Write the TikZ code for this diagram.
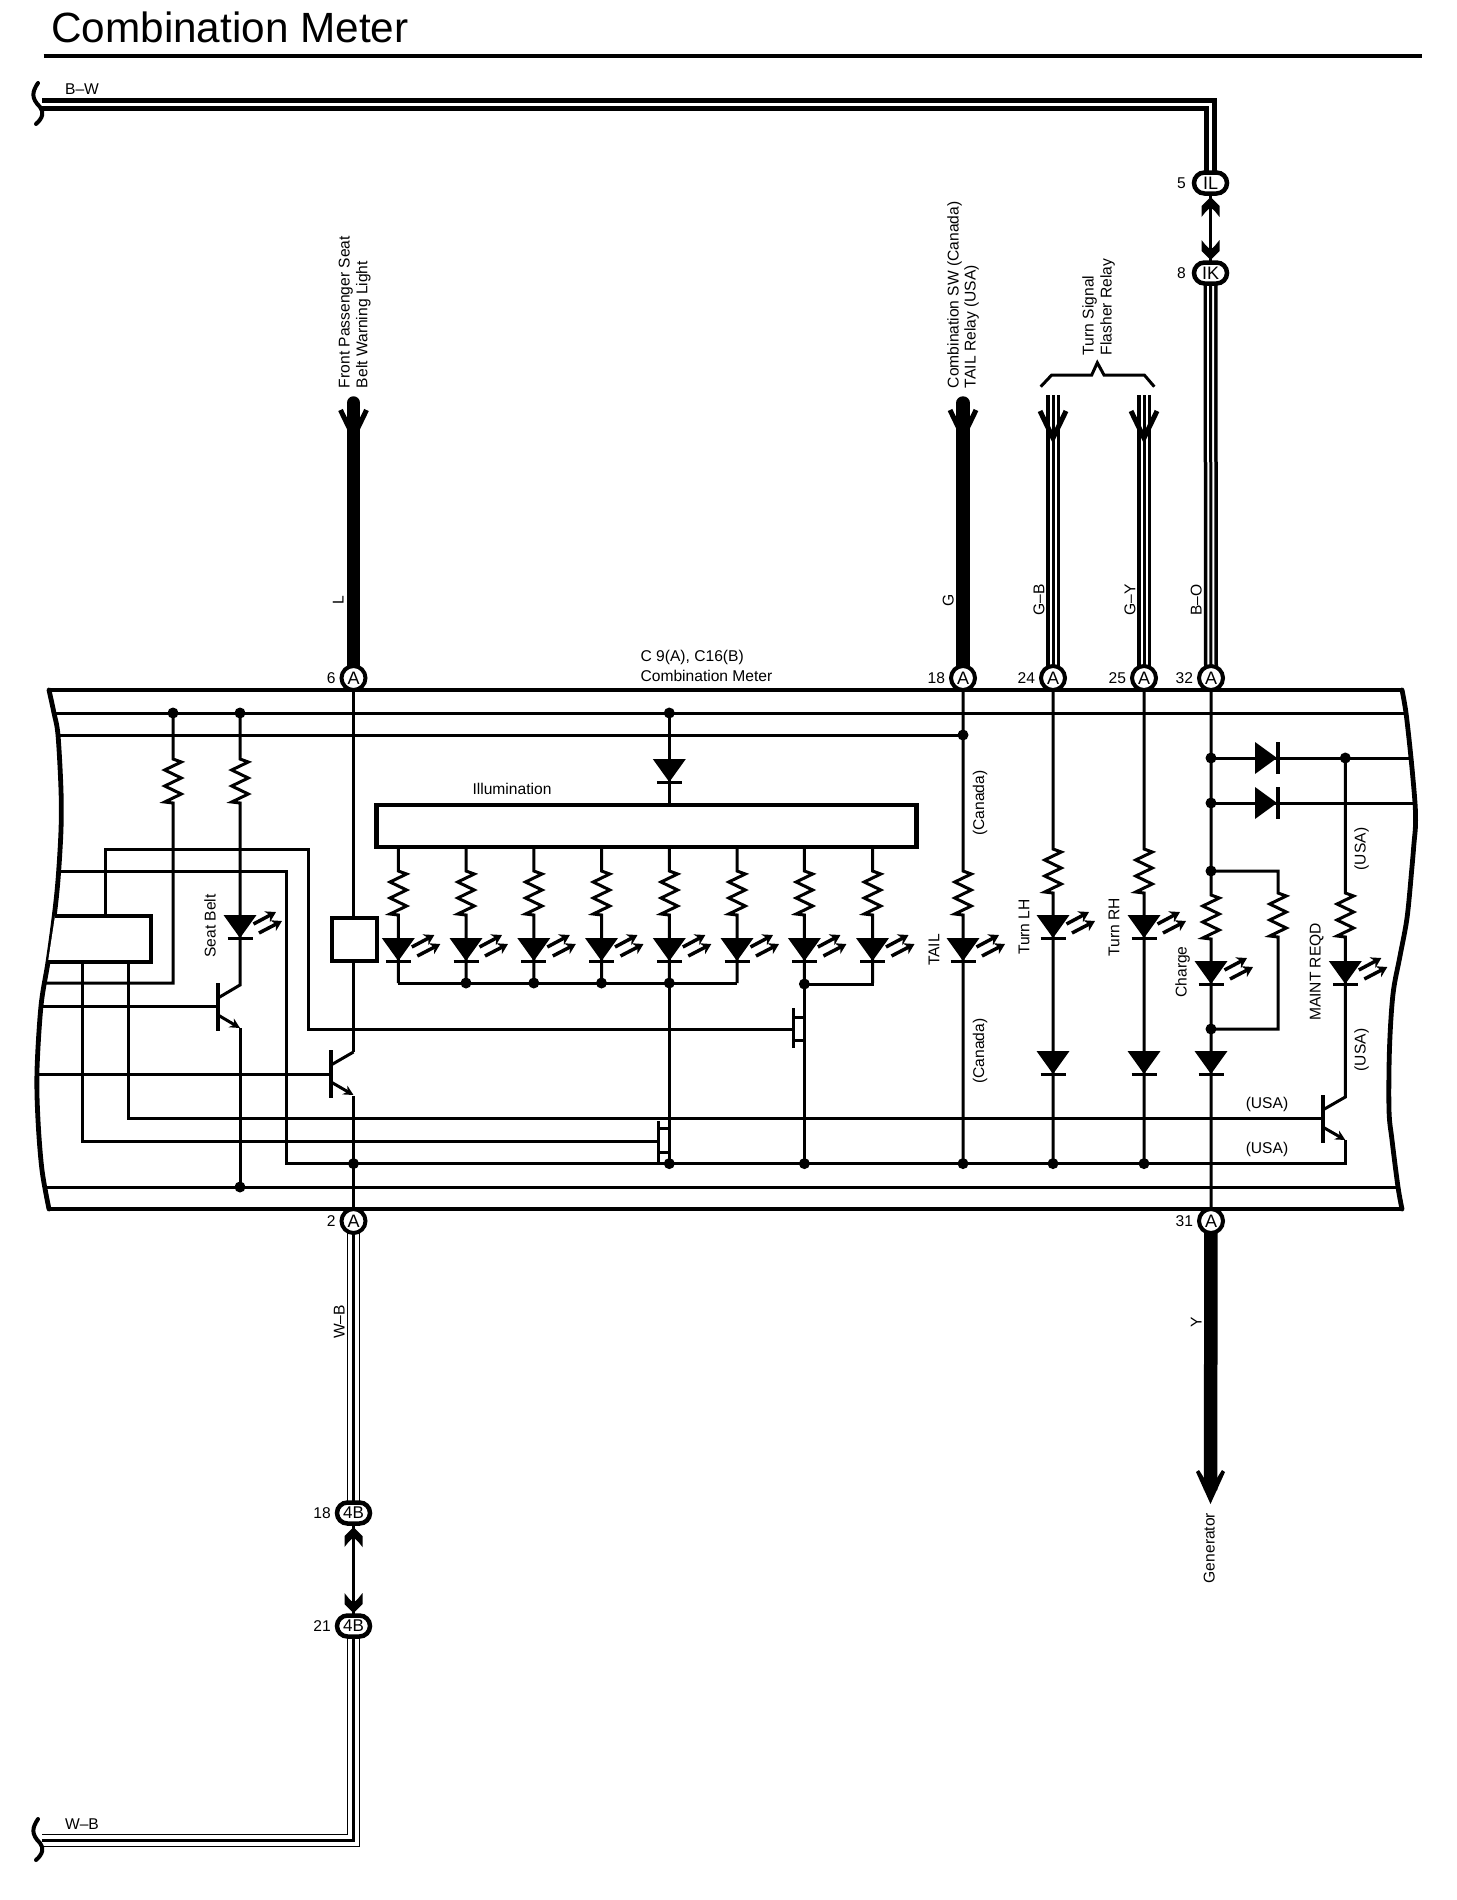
\documentclass[tikz,border=0pt]{standalone}
\usepackage{fontspec}
\setmainfont{Liberation Sans}
\usetikzlibrary{arrows.meta,backgrounds}
\tikzset{
  wire/.style={line width=3pt,miter limit=10},
  heavy/.style={line width=4.2pt,line join=miter},
  lbl/.style={inner sep=0pt,outer sep=0pt,font=\fontsize{15.6}{15.6}\selectfont,text height=11.3pt,text depth=0pt},
  rlbl/.style={lbl,rotate=90},
  pinA/.style={circle,draw,fill=white,line width=4pt,minimum size=24pt,inner sep=0pt,font=\fontsize{18}{18}\selectfont},
  pinO/.style={rectangle,rounded corners=10.5pt,draw,fill=white,line width=4.5pt,minimum width=33pt,minimum height=21pt,inner sep=0pt,font=\fontsize{18}{18}\selectfont},
  jdot/.style={circle,fill=black,minimum size=11pt,inner sep=0pt},
  boxx/.style={rectangle,draw,fill=white,line width=4.5pt,inner sep=0pt},
  ledray/.style={line width=3.5pt,-{Stealth[length=10pt,width=12pt]}},
}
% zigzag resistor continuing a path, 44 tall
\newcommand{\zigp}{-- ++(8.3,3) -- ++(-16.6,8) -- ++(16.6,8) -- ++(-16.6,8) -- ++(16.6,8) -- ++(-16.6,8) -- ++(8.3,1)}
% diode pointing down: x, y of triangle base
\newcommand{\ddown}[2]{\fill (#1-16.5,#2) -- (#1+16.5,#2) -- (#1,#2+23) -- cycle;
  \draw[line width=3.4pt] (#1-12.5,#2+23.5) -- (#1+12.5,#2+23.5);}
% LED pointing down
\newcommand{\ledd}[2]{\ddown{#1}{#2}
  \draw[ledray] (#1+13.5,#2+9) -- (#1+36,#2-3);
  \draw[ledray] (#1+19,#2+18) -- (#1+42,#2+6);}
% diode pointing right: x of base, y
\newcommand{\dright}[2]{\fill (#1,#2-16) -- (#1,#2+16) -- (#1+22,#2) -- cycle;
  \draw[line width=3.4pt] (#1+23,#2-16) -- (#1+23,#2+16);}
% transistor: bar x, collector/emitter x, y of bar top
\newcommand{\npnt}[3]{\draw[line width=4pt] (#1,#3) -- (#1,#3+48);
  \draw[wire] (#2,#3+2) -- (#1,#3+15);
  \draw[wire,-{Stealth[length=10pt,width=10pt]}] (#1,#3+32) -- (#2,#3+45);}
% fat connector arrow: x, tip y, yscale
\newcommand{\fatarrow}[3]{\fill[shift={(#1,#2)},yscale=#3] (0,0) -- (9,9) -- (9,20) -- (5,15) -- (2,12) -- (-2,12) -- (-5,15) -- (-9,20) -- (-9,9) -- cycle;}
% open chevron on a wire end
\newcommand{\chev}[2]{\draw[line width=5pt,line join=miter] (#1-13,#2) -- (#1,#2+27) -- (#1+13,#2);}
% wire break
\newcommand{\brk}[2]{\draw[line width=4pt,line cap=round] (#1-2,#2-21) .. controls (#1-8,#2-12) and (#1-9,#2-6) .. (#1,#2+3) .. controls (#1+4,#2+8) and (#1+3,#2+14) .. (#1-4,#2+20);}
\begin{document}
\begin{tikzpicture}[x=1pt,y=-1pt,line cap=butt]
\useasboundingbox (0,0) rectangle (1456,1900);

% ---------- named connector pins ----------
\node[pinA,label={[lbl,label distance=4pt]left:6}] (p6) at (353.5,678) {A};
\node[pinA,label={[lbl,label distance=4pt]left:18}] (p18) at (963,678) {A};
\node[pinA,label={[lbl,label distance=4pt]left:24}] (p24) at (1053,678) {A};
\node[pinA,label={[lbl,label distance=4pt]left:25}] (p25) at (1144,678) {A};
\node[pinA,label={[lbl,label distance=4pt]left:32}] (p32) at (1211,678) {A};
\node[pinA,label={[lbl,label distance=4pt]left:2}] (p2) at (353.5,1221) {A};
\node[pinA,label={[lbl,label distance=4pt]left:31}] (p31) at (1211,1221) {A};
\node[pinO,label={[lbl,label distance=6pt]left:5}] (oIL) at (1210.5,183) {IL};
\node[pinO,label={[lbl,label distance=6pt]left:8}] (oIK) at (1210.5,273) {IK};
\node[pinO,font=\fontsize{17}{17}\selectfont,label={[lbl,label distance=4pt]left:18}] (o4a) at (353.5,1513) {4B};
\node[pinO,font=\fontsize{17}{17}\selectfont,label={[lbl,label distance=4pt]left:21}] (o4b) at (353.5,1626) {4B};

% free ends
\coordinate (bwL) at (42,104.3);
\coordinate (bwC) at (1210.5,104.3);
\coordinate (wbL) at (42,1840.5);
\coordinate (wbC) at (353.5,1840.5);
\coordinate (eL) at (353.5,403);
\coordinate (eG) at (963,403);
\coordinate (eGB) at (1053,395);
\coordinate (eGY) at (1144,395);
\coordinate (eGen) at (1210.5,1490);

% boxes
\node[boxx,minimum width=540pt,minimum height=42pt] (illum) at (646.5,826) {};
\node[boxx,line width=4pt,minimum width=45pt,minimum height=43pt] (box2) at (354,939) {};

% junction dots
\node[jdot] (dR1) at (173,713) {};
\node[jdot] (dR2) at (240,713) {};
\node[jdot] (dIl) at (669.3,713) {};
\node[jdot] (dT) at (963,735) {};
\node[jdot] (dG1) at (240,1187) {};
\node[jdot] (dE2) at (353.5,1163.6) {};
\node[jdot] (dI5b) at (669.3,1163.6) {};
\node[jdot] (dI7b) at (804.4,1163.6) {};
\node[jdot] (dTb) at (963,1163.6) {};
\node[jdot] (dLb) at (1053,1163.6) {};
\node[jdot] (dRb) at (1144,1163.6) {};
\node[jdot] (dD1) at (1211,758) {};
\node[jdot] (dD2) at (1211,803) {};
\node[jdot] (dC1) at (1211,871) {};
\node[jdot] (dC2) at (1211,1029) {};
\node[jdot] (dM) at (1345.3,758) {};
\node[jdot] (dI2) at (466,983) {};
\node[jdot] (dI3) at (533.8,983) {};
\node[jdot] (dI4) at (601.5,983) {};
\node[jdot] (dI5) at (669.3,983) {};
\node[jdot] (dI7) at (804.4,984) {};

% ---------- wires, below the nodes ----------
\begin{scope}[on background layer]
% title rule
\draw[line width=4.5pt] (43.7,55.8) -- (1422,55.8);
% frame
\draw[heavy] (49,690) -- (1402,690);
\draw[heavy] (49,1209) -- (1402,1209);
\draw[line width=4.8pt,line cap=round] plot[smooth,tension=.55] coordinates {(49,690) (54,713) (58,735) (61,790) (61,830) (58,880) (54,918) (48,962) (41,1006) (37,1071) (38,1120) (42,1170) (49,1209)};
\draw[line width=4.8pt,line cap=round] plot[smooth,tension=.55] coordinates {(1402,690) (1406,713) (1411,758) (1415,803) (1415.5,825) (1414,843) (1411.7,870) (1407,918) (1400,956) (1393,994) (1389.5,1048) (1389,1110) (1392,1140) (1398,1187) (1402,1209)};
% long horizontals
\draw[wire] (54,713) -- (dR1.center) -- (dR2.center) -- (dIl.center) -- (1406,713);
\draw[wire] (58,735) -- (dT.center);
\draw[wire] (44,1187) -- (dG1.center) -- (1398,1187);
% seat belt branch
\draw[wire] (dR1.center) -- (173,759) \zigp -- (173,983) -- (45,983);
\draw[wire] (dR2.center) -- (240,759) \zigp -- (240,986);
\draw[wire] (240,1028) -- (dG1.center);
\draw[wire] (41,1006) -- (218,1006);
% main transistor
\draw[wire] (p6.center) -- (box2.north -| p6);
\draw[wire] (box2.south -| p6) -- (353.5,1052);
\draw[wire] (37,1074) -- (331,1074);
\draw[wire] (353.5,1096) -- (p2.center);
% box1 outputs
\draw[wire] (105,916) -- (105,849) -- (308,849) -- (308,1029.5) -- (793,1029.5);
\draw[wire] (60,871) -- (286,871) -- (286,1163.6) -- (dE2.center) -- (dI5b.center) -- (dI7b.center) -- (dTb.center) -- (dLb.center) -- (dRb.center) -- (1345.3,1163.6) -- (1345.3,1140);
\draw[wire] (82,962) -- (82,1141) -- (658,1141);
\draw[wire] (128,962) -- (128,1118.5) -- (1322.7,1118.5);
% illumination
\draw[wire] (dIl.center) -- (illum.north -| dIl);
\foreach \x in {398.3,466,533.8,601.5,669.3,737,804.4,872.5}{
  \draw[wire] (\x,849) -- (\x,871) \zigp -- (\x,983);
}
\draw[wire] (398.3,983) -- (737,983);
\draw[wire] (804.4,984) -- (872.5,984) -- (872.5,983);
\draw[wire] (dI5.center) -- (dI5b.center);
\draw[wire] (dI7.center) -- (dI7b.center);
% column wires
\draw[wire] (p18.center) -- (963,871) \zigp -- (dTb.center);
\draw[wire] (p24.center) -- (1053,849) \zigp -- (dLb.center);
\draw[wire] (p25.center) -- (1144,849) \zigp -- (dRb.center);
\draw[wire] (p32.center) -- (dC1.center) -- (1211,895) \zigp -- (dC2.center) -- (p31.center);
\draw[wire] (dC1.center) -- (1278,871) -- (1278,893) \zigp -- (1278,1029) -- (dC2.center);
\draw[wire] (dD1.center) -- (dM.center) -- (1411,758);
\draw[wire] (dD2.center) -- (1415,803);
\draw[wire] (dM.center) -- (1345.3,893) \zigp -- (1345.3,1098);
% harness wires
\draw[line width=12.5pt,line join=miter] (bwL) -- (bwC) -- (oIL.center);
\draw[white,line width=2.8pt,line join=miter] (bwL) -- (bwC) -- (oIL.center);
\draw[line width=3pt] (oIL.center) -- (oIK.center);
\foreach \a/\b in {oIK/p32,eGB/p24,eGY/p25}{
  \draw[line width=14pt] (\a.center) -- (\b.center);
  \draw[white,line width=7pt] (\a.center) -- (\b.center);
  \draw[line width=3pt] (\a.center) -- (\b.center);
}
\draw[line width=13.5pt,line cap=round] (eL) -- (p6.center);
\draw[line width=13.5pt,line cap=round] (eG) -- (p18.center);
\draw[line width=13.5pt] (p31.center) -- (eGen);
\foreach \a/\b in {p2/o4a}{
  \draw[line width=13.5pt] (\a.center) -- (\b.center);
  \draw[white,line width=10.5pt] (\a.center) -- (\b.center);
  \draw[line width=3.5pt] (\a.center) -- (\b.center);
}
\draw[line width=13.5pt,line join=miter] (o4b.center) -- (wbC) -- (wbL);
\draw[white,line width=10.5pt,line join=miter] (o4b.center) -- (wbC) -- (wbL);
\draw[line width=3.5pt,line join=miter] (o4b.center) -- (wbC) -- (wbL);
\draw[line width=3pt] (o4a.center) -- (o4b.center);
\end{scope}

% ---------- symbols ----------
% box 1 runs into the frame edge
\draw[line width=4.5pt,fill=white] (55,916) -- (151,916) -- (151,962) -- (48,962);
% LEDs and diodes
\ledd{240}{915}
\foreach \x in {398.3,466,533.8,601.5,669.3,737,804.4,872.5}{\ledd{\x}{938}}
\ledd{963}{938}
\ledd{1053}{915}
\ledd{1144}{915}
\ledd{1211}{961}
\ledd{1345.3}{961}
\ddown{669.3}{759}
\ddown{1053}{1051}
\ddown{1144}{1051}
\ddown{1211}{1051}
\dright{1255}{758}
\dright{1255}{803}
% transistors
\npnt{218}{240}{983}
\npnt{331}{353.5}{1050}
\npnt{1322.7}{1345.3}{1095}
% FET-like contacts
\draw[wire] (793,1008) -- (793,1048) (793,1017) -- (804.4,1017) (793,1040) -- (804.4,1040);
\draw[wire] (658,1121) -- (658,1163) (658,1128) -- (669.3,1128) (658,1152) -- (669.3,1152);
% connector arrows
\fatarrow{1210.5}{197}{1}
\fatarrow{1210.5}{260}{-1}
\fatarrow{353.5}{1527}{1}
\fatarrow{353.5}{1613}{-1}
\chev{353.5}{410}
\chev{963}{410}
\chev{1053}{411}
\chev{1144}{411}
\fill (1196,1472) -- (1199,1470) -- (1204,1478) -- (1217,1478) -- (1222,1470) -- (1225,1472) -- (1210.5,1504) -- cycle;
% wire breaks
\brk{40}{104}
\brk{40}{1840}
% brace
\draw[line width=3pt] (1040.7,386.7) -- (1051.7,375) -- (1091.7,375) -- (1097.3,362.7) -- (1104,375) -- (1144.3,375) -- (1154.3,386.7);

% ---------- texts ----------
\node[anchor=base west,inner sep=0pt,font=\fontsize{42.3}{42.3}\selectfont] (title) at (51,42.5) {Combination Meter};
\node[lbl] (lBW) at (82,89) {B--W};
\node[lbl] (lWB) at (82,1824) {W--B};
\node[rlbl,anchor=west] (t1) at (344,388) {Front Passenger Seat};
\node[rlbl,anchor=west] (t2) at (361.7,388) {Belt Warning Light};
\node[rlbl,anchor=west] (t3) at (953,388) {Combination SW (Canada)};
\node[rlbl,anchor=west] (t4) at (970,388) {TAIL Relay (USA)};
\node[rlbl,anchor=west] (t5) at (1088,355) {Turn Signal};
\node[rlbl,anchor=west] (t6) at (1106,355) {Flasher Relay};
\node[rlbl] (wL) at (338,600) {L};
\node[rlbl] (wG) at (948,600) {G};
\node[rlbl] (wGB) at (1038.6,600) {G--B};
\node[rlbl] (wGY) at (1129.6,600) {G--Y};
\node[rlbl] (wBO) at (1196,600) {B--O};
\node[rlbl] (wWB) at (339,1322) {W--B};
\node[rlbl] (wY) at (1196,1322) {Y};
\node[rlbl] (tGen) at (1209,1548) {Generator};
\node[lbl,anchor=west] (t7) at (640.6,656) {C 9(A), C16(B)};
\node[lbl,anchor=west] (t8) at (640.6,676) {Combination Meter};
\node[lbl] (t9) at (512,789) {Illumination};
\node[rlbl] (t10) at (210,926) {Seat Belt};
\node[rlbl] (t11) at (933.6,950) {TAIL};
\node[rlbl] (t12) at (1023.7,927) {Turn LH};
\node[rlbl] (t13) at (1113.8,927) {Turn RH};
\node[rlbl] (t14) at (1181,972) {Charge};
\node[rlbl] (t15) at (1315,972) {MAINT REQD};
\node[rlbl] (t16) at (978.5,803) {(Canada)};
\node[rlbl] (t17) at (978.5,1051) {(Canada)};
\node[rlbl] (t18) at (1360,849) {(USA)};
\node[rlbl] (t19) at (1360,1050) {(USA)};
\node[lbl] (t20) at (1267,1103) {(USA)};
\node[lbl] (t21) at (1267,1148) {(USA)};
\end{tikzpicture}
\end{document}
